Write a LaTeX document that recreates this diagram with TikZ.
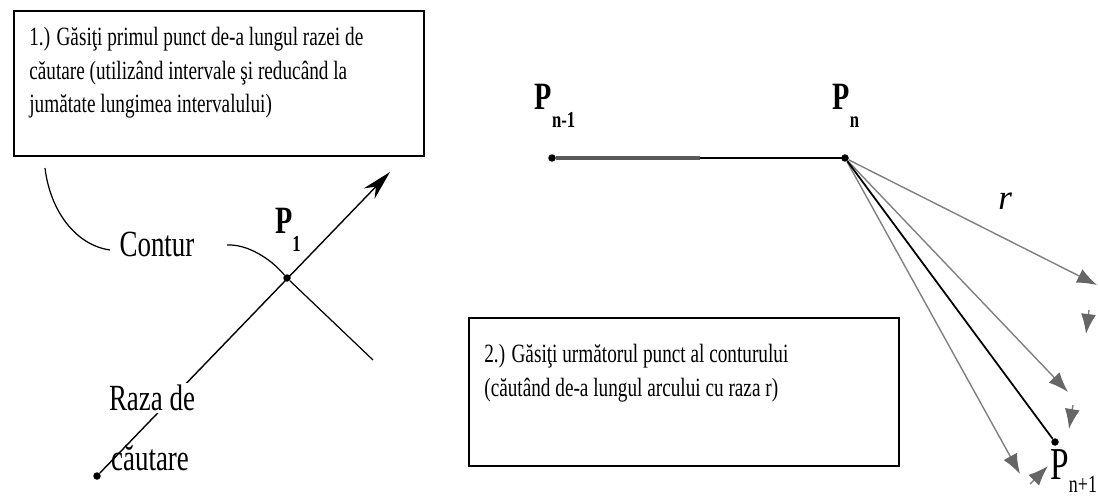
\documentclass[tikz,border=0pt]{standalone}
\usepackage{fontspec}
\setmainfont{Liberation Serif}
\newfontfamily\condfont[FakeStretch=0.73]{Liberation Serif}
\usetikzlibrary{arrows.meta,positioning,calc}
\tikzstyle{rayarrow} = [line width=0.8pt,-{Stealth[length=6mm,width=3mm]}]
\tikzstyle{fanarrow} = [line width=0.8pt,black!50,-{Latex[length=4mm,width=3mm,color=black!60]}]
\newcommand{\Plbl}[1]{{\bfseries P}\raisebox{-0.45em}{\fontsize{13}{13}\selectfont\bfseries #1}}

\begin{document}
\begin{tikzpicture}[x=0.02cm,y=-0.02cm,
    ptdot/.style={circle,fill=black,inner sep=0pt,minimum size=0.15cm},
    infobox/.style={draw,line width=1.3pt,anchor=north west,inner sep=0pt},
    boxtext/.style={anchor=north west,align=left,inner sep=0pt,font=\condfont\fontsize{15}{19}\selectfont},
    bigtext/.style={font=\condfont\fontsize{21}{21}\selectfont,inner sep=1pt},
    plabel/.style={font=\condfont\fontsize{22}{22}\selectfont}]
    \useasboundingbox (0,0) rectangle (1098,500);

    % step boxes
    \node[infobox,minimum width=8.2cm,minimum height=2.9cm] (box1) at (13,10) {};
    \node[boxtext] (text1) at ([shift={(16,17)}]box1.north west)
        {1.) Găsiţi primul punct de-a lungul razei de\\
         căutare (utilizând intervale şi reducând la\\
         jumătate lungimea intervalului)};
    \node[infobox,minimum width=8.6cm,minimum height=2.96cm] (box2) at (468,317) {};
    \node[boxtext] (text2) at ([shift={(16,27)}]box2.north west)
        {2.) Găsiţi următorul punct al conturului\\
         (căutând de-a lungul arcului cu raza r)};

    % contour and search ray
    \node[ptdot] (p1) at (287,278) {};
    \node[plabel] (lp1) at (288,230) {\Plbl{1}};
    \node[bigtext] (contur) at (157,244) {Contur};
    \coordinate (c0) at (45,168);
    \coordinate (ca) at (110,250);
    \coordinate (cb) at (227,245);
    \coordinate (c1) at (373,360);
    \draw[line width=0.7pt] (c0) .. controls (50,210) and (75,245) .. (ca);
    \draw[line width=0.7pt] (cb) .. controls (247,244) and (270,258) .. (p1) -- (c1);
    \node[ptdot] (start) at (97,476) {};
    \coordinate (raytip) at (390,172);
    \draw[rayarrow] (start) -- (raytip);
    \node[bigtext,fill=white] (raza) at (152,398) {Raza de};
    \node[bigtext] (cautare) at (150,458) {căutare};

    % previous and current point
    \node[ptdot] (pnm1) at (552,158) {};
    \node[ptdot] (pn) at (845,158) {};
    \coordinate (mid) at (700,158);
    \node[plabel] (lpnm1) at (555,106) {\Plbl{n-1}};
    \node[plabel] (lpn) at (846,106) {\Plbl{n}};
    \draw[line width=2.2pt,black!65] (pnm1) -- (mid);
    \draw[line width=1.2pt] (mid) -- (pn.center);

    % search along the arc of radius r
    \coordinate (r1) at (1097,285);
    \coordinate (r2) at (1068,392);
    \coordinate (r3) at (1020,474);
    \node[ptdot] (pn1) at (1055,442) {};
    \draw[fanarrow] (pn) -- (r1) node[pos=0.63,above=13pt,black,font=\fontsize{20}{20}\selectfont\itshape] (lr) {r};
    \draw[fanarrow] (pn) -- (r2);
    \draw[fanarrow] (pn) -- (r3);
    \draw[line width=1pt] (pn) -- (pn1);
    \node[font=\condfont\fontsize{26}{26}\selectfont,anchor=north west,inner sep=0pt] (lpn1) at (1050,449)
        {P\raisebox{-0.3em}{\fontsize{14}{14}\selectfont n+1}};

    % arc direction marks
    \coordinate (a1s) at (1089,310);
    \coordinate (a1e) at (1086,334);
    \coordinate (a2s) at (1073,405);
    \coordinate (a2e) at (1069,429);
    \coordinate (a3s) at (1030,484);
    \coordinate (a3e) at (1048,466);
    \draw[fanarrow] (a1s) -- (a1e);
    \draw[fanarrow] (a2s) -- (a2e);
    \draw[fanarrow] (a3s) -- (a3e);
\end{tikzpicture}
\end{document}
